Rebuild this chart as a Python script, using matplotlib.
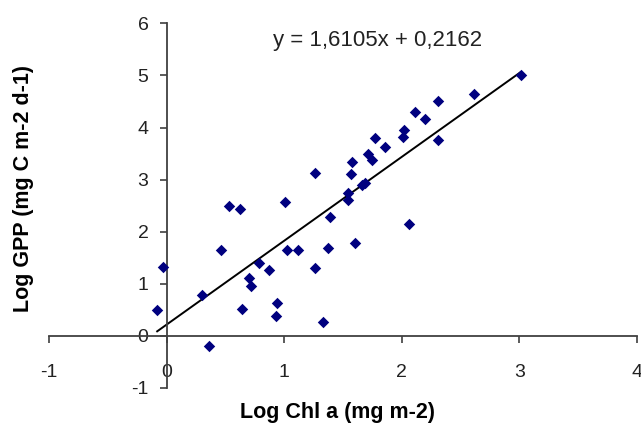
import numpy as np
import matplotlib.pyplot as plt

plt.rcParams['font.family'] = ['Liberation Sans', 'DejaVu Sans']
plt.rcParams['axes.unicode_minus'] = False

# log chl a (x) and log GPP (y)
log_chl = [-0.08, -0.03, 0.30, 0.36, 0.46, 0.53, 0.62, 0.64, 0.70, 0.72,
           0.79, 0.87, 0.94, 0.93, 1.01, 1.02, 1.12, 1.26, 1.26, 1.33,
           1.37, 1.39, 1.54, 1.54, 1.57, 1.58, 1.60, 1.66, 1.69, 1.71,
           1.75, 1.77, 1.86, 2.01, 2.02, 2.06, 2.11, 2.20, 2.31, 2.31,
           2.61, 3.01]
log_gpp = [0.49, 1.32, 0.79, -0.19, 1.65, 2.50, 2.43, 0.52, 1.11, 0.96,
           1.40, 1.27, 0.64, 0.38, 2.57, 1.65, 1.65, 1.30, 3.12, 0.26,
           1.69, 2.29, 2.61, 2.75, 3.10, 3.33, 1.78, 2.89, 2.94, 3.49,
           3.38, 3.80, 3.63, 3.82, 3.95, 2.15, 4.29, 4.16, 4.51, 3.77,
           4.64, 5.00]

slope = 1.6105
intercept = 0.2162

x_ticks = [-1, 0, 1, 2, 3, 4]
y_ticks = [-1, 0, 1, 2, 3, 4, 5, 6]

fig = plt.figure(figsize=(6.41, 4.33), dpi=100)
ax = fig.add_axes([0.0764, 0.104, 0.9174, 0.842])

ax.scatter(log_chl, log_gpp, marker='D', s=34, color='#00007f', zorder=3,
           linewidths=0)

xs = np.array([min(log_chl), max(log_chl)])
ax.plot(xs, slope * xs + intercept, color='black', lw=1.4, zorder=2)

ax.set_xlim(-1, 4)
ax.set_ylim(-1, 6)
ax.set_xticks(x_ticks)
ax.set_yticks(y_ticks)

# axes cross at the origin
ax.spines['left'].set_position(('data', 0))
ax.spines['bottom'].set_position(('data', 0))
ax.spines['top'].set_visible(False)
ax.spines['right'].set_visible(False)
for s in ['left', 'bottom']:
    ax.spines[s].set_color('#404040')
    ax.spines[s].set_linewidth(1.3)

ax.tick_params(axis='both', direction='out', length=5, width=1.2,
               color='#404040', labelsize=14, labelcolor='#222222')
ax.tick_params(axis='x', pad=15)
ax.tick_params(axis='y', pad=8)

ax.set_xlabel('Log Chl a (mg m-2)', fontsize=15.5, fontweight='bold',
              va='center', ha='center')
ax.xaxis.set_label_coords(0.49, -0.066)
ax.set_ylabel('Log GPP (mg C m-2 d-1)', fontsize=15.5, fontweight='bold',
              va='center', ha='center')
ax.yaxis.set_label_coords(-0.044, 0.548)

ax.text(1.79, 5.67, 'y = 1,6105x + 0,2162', fontsize=16, color='#222222',
        ha='center', va='center')

fig.savefig('out.png', dpi=100)
